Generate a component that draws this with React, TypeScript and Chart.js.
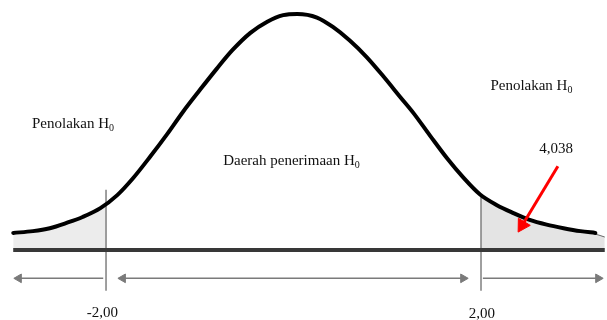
import React, { useEffect, useRef } from "react";
import { Chart, registerables } from "chart.js";

Chart.register(...registerables);

// Normal curve (x in z-units, y = density height)
const curveX = [-2.99, -2.78, -2.6, -2.42, -2.25, -2.06, -1.88, -1.71, -1.53, -1.35, -1.18, -1.0, -0.82, -0.65, -0.46, -0.28, -0.11, 0.04, 0.25, 0.42, 0.6, 0.78, 0.96, 1.14, 1.28, 1.46, 1.64, 1.81, 1.99, 2.17, 2.34, 2.52, 2.7, 2.88, 3.06, 3.22];
const curveY = [0.029, 0.032, 0.037, 0.046, 0.056, 0.071, 0.093, 0.122, 0.158, 0.196, 0.234, 0.271, 0.307, 0.339, 0.368, 0.387, 0.398, 0.4, 0.394, 0.378, 0.355, 0.327, 0.294, 0.259, 0.232, 0.193, 0.155, 0.123, 0.094, 0.076, 0.063, 0.051, 0.043, 0.037, 0.032, 0.029];

// Rejection regions
const leftTailX = [-2.99, -2.78, -2.6, -2.42, -2.25, -2.06, -2.0];
const leftTailY = [0.029, 0.032, 0.037, 0.046, 0.056, 0.071, 0.078];
const rightTailX = [2.0, 2.17, 2.34, 2.52, 2.7, 2.88, 3.06, 3.22, 3.32];
const rightTailY = [0.092, 0.076, 0.063, 0.051, 0.043, 0.037, 0.032, 0.027, 0.022];

// Critical values
const criticalValues = [-2.0, 2.0];
const criticalTop = [0.102, 0.093];
const criticalBottom = -0.069;
const criticalLabels = ["-2,00", "2,00"];

// Baseline extent
const baselineX = [-2.99, 3.32];

// Range arrows (x from, x to) at arrow level
const arrowLevel = -0.048;
const arrowSegments: [number, number][] = [
  [-2.03, -2.93],
  [-1.82, 1.81],
  [2.02, 3.25],
];

// Observed statistic arrow
const statValue = "4,038";
const statArrowX = [2.82, 2.44];
const statArrowY = [0.142, 0.042];

// Text labels: [text, subscript, x, y, align]
const regionLabels: [string, string, number, number, CanvasTextAlign][] = [
  ["Penolakan H", "0", -2.79, 0.207, "left"],
  ["Penolakan H", "0", 2.1, 0.271, "left"],
  ["Daerah penerimaan H", "0", -0.75, 0.144, "left"],
  [statValue, "", 2.62, 0.164, "left"],
  [criticalLabels[0], "", -2.04, -0.114, "center"],
  [criticalLabels[1], "", 2.01, -0.115, "center"],
];

const pts = (xs: number[], ys: number[]) => xs.map((x, i) => ({ x, y: ys[i] }));

export default function App() {
  const ref = useRef<HTMLCanvasElement>(null);
  useEffect(() => {
    document.body.style.margin = "0";
    const canvas = ref.current!;
    const labelPlugin = {
      id: "labels",
      afterDraw(chart: any) {
        const ctx = chart.ctx;
        const sx = chart.scales.x;
        const sy = chart.scales.y;
        ctx.save();
        ctx.fillStyle = "#111";
        ctx.textBaseline = "alphabetic";
        regionLabels.forEach(([t, sub, x, y, align]) => {
          const px = sx.getPixelForValue(x);
          const py = sy.getPixelForValue(y);
          ctx.font = "15px 'Liberation Serif', 'Times New Roman', serif";
          const w = ctx.measureText(t).width;
          ctx.font = "10px 'Liberation Serif', 'Times New Roman', serif";
          const ws = sub ? ctx.measureText(sub).width : 0;
          const total = w + ws;
          const left = align === "center" ? px - total / 2 : px;
          ctx.textAlign = "left";
          ctx.font = "15px 'Liberation Serif', 'Times New Roman', serif";
          ctx.fillText(t, left, py);
          if (sub) {
            ctx.font = "10px 'Liberation Serif', 'Times New Roman', serif";
            ctx.fillText(sub, left + w, py + 3);
          }
        });
        ctx.restore();
      },
    };

    const datasets: any[] = [
      {
        data: pts(curveX, curveY),
        borderColor: "#000",
        borderWidth: 4,
        borderCapStyle: "round",
        pointRadius: 0,
        cubicInterpolationMode: "monotone",
        fill: false,
        order: 0,
      },
      {
        data: pts(leftTailX, leftTailY),
        borderColor: "#666",
        borderWidth: 1,
        backgroundColor: "#ececec",
        pointRadius: 0,
        cubicInterpolationMode: "monotone",
        fill: "origin",
        order: 5,
      },
      {
        data: pts(rightTailX, rightTailY),
        borderColor: "#666",
        borderWidth: 1,
        backgroundColor: "#e4e4e4",
        pointRadius: 0,
        cubicInterpolationMode: "monotone",
        fill: "origin",
        order: 5,
      },
      {
        data: baselineX.map((x) => ({ x, y: 0 })),
        borderColor: "#383838",
        borderWidth: 4,
        pointRadius: 0,
        fill: false,
        order: 1,
      },
      ...criticalValues.map((c, i) => ({
        data: [
          { x: c, y: criticalTop[i] },
          { x: c, y: criticalBottom },
        ],
        borderColor: "#808080",
        borderWidth: 1.5,
        pointRadius: 0,
        fill: false,
        order: 2,
      })),
      ...arrowSegments.map(([a, b], i) => ({
        data: [
          { x: a, y: arrowLevel },
          { x: b, y: arrowLevel },
        ],
        borderColor: "#7a7a7a",
        borderWidth: 1.5,
        pointStyle: "triangle",
        pointRadius: i === 1 ? [5, 5] : [0, 5],
        pointRotation: i === 1 ? [-90, 90] : [0, b < a ? -90 : 90],
        pointBackgroundColor: "#7a7a7a",
        pointBorderColor: "#7a7a7a",
        pointBorderWidth: 1,
        fill: false,
        order: 2,
      })),
      {
        data: pts(statArrowX, statArrowY),
        borderColor: "#ff0000",
        borderWidth: 3,
        pointStyle: "triangle",
        pointRadius: [0, 8],
        pointRotation: [0, 211],
        pointBackgroundColor: "#ff0000",
        pointBorderColor: "#ff0000",
        pointBorderWidth: 1,
        fill: false,
        order: -1,
      },
    ];

    const chart = new Chart(canvas, {
      type: "line",
      data: { datasets },
      options: {
        animation: false,
        responsive: false,
        maintainAspectRatio: false,
        layout: { padding: 0, autoPadding: false },
        plugins: { legend: { display: false }, tooltip: { enabled: false } },
        scales: {
          x: { type: "linear", min: -3.131, max: 3.344, display: false },
          y: { type: "linear", min: -0.1186, max: 0.4237, display: false },
        },
      },
      plugins: [labelPlugin],
    });
    return () => chart.destroy();
  }, []);
  return (
    <div style={{ width: 607, height: 320, background: "#fff" }}>
      <canvas ref={ref} width={607} height={320} style={{ display: "block" }} />
    </div>
  );
}
